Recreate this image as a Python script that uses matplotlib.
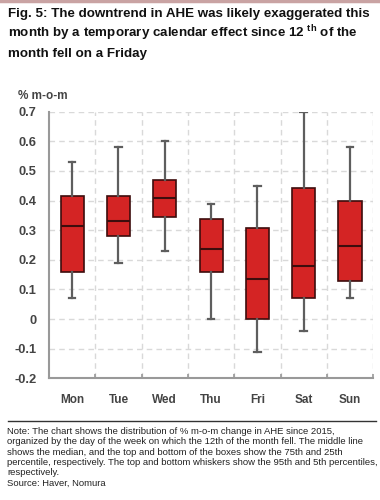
import matplotlib
matplotlib.use("Agg")
import matplotlib.pyplot as plt
from matplotlib.lines import Line2D

plt.rcParams['font.family'] = ['Liberation Sans', 'DejaVu Sans']
plt.rcParams['mathtext.fontset'] = 'custom'
plt.rcParams['mathtext.rm'] = 'Liberation Sans'
plt.rcParams['mathtext.bf'] = 'Liberation Sans:bold'

days = ["Mon", "Tue", "Wed", "Thu", "Fri", "Sat", "Sun"]
p95 = [0.53, 0.58, 0.60, 0.39, 0.45, 0.70, 0.58]
p75 = [0.415, 0.415, 0.47, 0.337, 0.309, 0.441, 0.397]
median = [0.315, 0.33, 0.41, 0.237, 0.135, 0.178, 0.247]
p25 = [0.16, 0.28, 0.345, 0.16, 0.0, 0.07, 0.13]
p05 = [0.07, 0.19, 0.23, 0.0, -0.11, -0.04, 0.07]
yticks = [0.7, 0.6, 0.5, 0.4, 0.3, 0.2, 0.1, 0, -0.1, -0.2]
ytick_labels = ["0.7", "0.6", "0.5", "0.4", "0.3", "0.2", "0.1", "0", "-0.1", "-0.2"]

fig = plt.figure(figsize=(3.8, 5.0), dpi=100)

# top pink rule
fig.add_artist(Line2D([0, 1], [0.998, 0.998], color="#c9a3a3", lw=2.5, transform=fig.transFigure))

# title
tkw = dict(fontsize=9.6, fontweight="bold", color="#111111", ha="left", va="baseline")
fig.text(0.021, 0.966, "Fig. 5: The downtrend in AHE was likely exaggerated this", **tkw)
fig.text(0.021, 0.926, "month by a temporary calendar effect since 12 $^{\\mathbf{th}}$ of the", **tkw)
fig.text(0.021, 0.887, "month fell on a Friday", **tkw)

ax = fig.add_axes([0.129, 0.2434, 0.853, 0.5332])

stats = []
for i, d in enumerate(days):
    stats.append(dict(label=d, whislo=p05[i], q1=p25[i], med=median[i],
                      q3=p75[i], whishi=p95[i], fliers=[]))

ax.bxp(stats, positions=range(1, len(days) + 1), widths=0.5, patch_artist=True,
       showfliers=False,
       boxprops=dict(facecolor="#d42424", edgecolor="#3d0d0d", linewidth=1.2),
       medianprops=dict(color="#3d0d0d", linewidth=1.5),
       whiskerprops=dict(color="#5e5e5e", linewidth=1.6),
       capprops=dict(color="#5e5e5e", linewidth=1.6),
       capwidths=0.14, zorder=3)

ax.set_xlim(0.5, 7.5)
ax.set_ylim(-0.2, 0.7)
ax.set_yticks(yticks)
ax.set_yticklabels(ytick_labels)
ax.set_xticks(range(1, 8))
ax.set_xticklabels(days)
ax.set_xticks([1.5, 2.5, 3.5, 4.5, 5.5, 6.5, 7.5], minor=True)

ax.tick_params(axis="y", length=0, pad=9, labelsize=9.3, labelcolor="#444444")
ax.tick_params(axis="x", which="major", length=0, pad=11, labelsize=8.5, labelcolor="#444444")
ax.tick_params(axis="x", which="minor", direction="in", length=3, color="#999999", width=1.2)
for lab in ax.get_yticklabels() + ax.get_xticklabels():
    lab.set_fontweight("bold")

ax.grid(True, axis="y", which="major", color="#d9d9d9", linestyle=(0, (4, 3)), lw=1, zorder=0)
ax.grid(True, axis="x", which="minor", color="#d9d9d9", linestyle=(0, (4, 3)), lw=1, zorder=0)
ax.grid(False, axis="x", which="major")
ax.set_axisbelow(True)

for s in ["top", "right"]:
    ax.spines[s].set_visible(False)
for s in ["left", "bottom"]:
    ax.spines[s].set_color("#999999")
    ax.spines[s].set_linewidth(1.5)

fig.text(0.047, 0.808, "% m-o-m", fontsize=8.5, fontweight="bold", color="#444444",
         ha="left", va="center")

# separator
fig.add_artist(Line2D([0.021, 0.99], [0.158, 0.158], color="#333333", lw=1.0, transform=fig.transFigure))

note = ("Note: The chart shows the distribution of % m-o-m change in AHE since 2015,\n"
        "organized by the day of the week on which the 12th of the month fell. The middle line\n"
        "shows the median, and the top and bottom of the boxes show the 75th and 25th\n"
        "percentile, respectively. The top and bottom whiskers show the 95th and 5th percentiles,\n"
        "respectively.\n"
        "Source: Haver, Nomura")
fig.text(0.019, 0.146, note, fontsize=6.8, color="#222222", ha="left", va="top", linespacing=1.19)

fig.savefig("out.png", dpi=100)
